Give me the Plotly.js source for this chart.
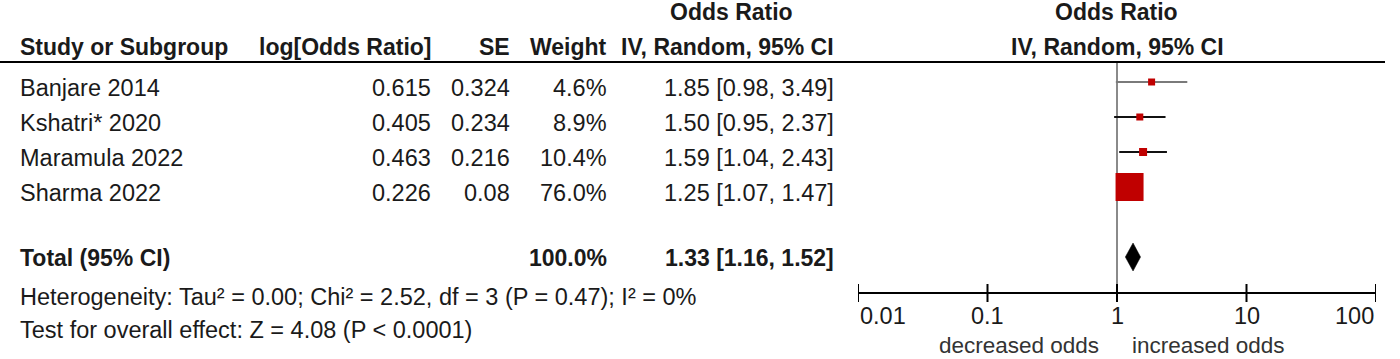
<!DOCTYPE html>
<html><head><meta charset="utf-8">
<script src="https://cdn.plot.ly/plotly-3.0.1.min.js"></script>
<style>html,body{margin:0;padding:0;background:#fff;}#chart{width:1400px;height:359px;}</style>
</head><body><div id="chart"></div>
<script>
// ---------- data ----------
const studies = ['Banjare 2014', 'Kshatri* 2020', 'Maramula 2022', 'Sharma 2022'];
const logOR   = [0.615, 0.405, 0.463, 0.226];
const se      = [0.324, 0.234, 0.216, 0.08];
const weight  = [4.6, 8.9, 10.4, 76.0];
const orVal   = [1.85, 1.50, 1.59, 1.25];
const orLow   = [0.98, 0.95, 1.04, 1.07];
const orHigh  = [3.49, 2.37, 2.43, 1.47];
const totalLabel  = 'Total (95% CI)';
const totalWeight = 100.0;
const totalOR     = 1.33;
const totalLow    = 1.16;
const totalHigh   = 1.52;
const heterogeneity = 'Heterogeneity: Tau² = 0.00; Chi² = 2.52, df = 3 (P = 0.47); I² = 0%';
const overallTest   = 'Test for overall effect: Z = 4.08 (P < 0.0001)';
const tickVals   = [0.01, 0.1, 1, 10, 100];
const tickLabels = ['0.01', '0.1', '1', '10', '100'];
const nullValue  = 1;
const favourLeft  = 'decreased odds';
const favourRight = 'increased odds';

// ---------- styles / layout helpers ----------
const W = 1400, H = 359;
const ROW1PX = 82, ROWH = 35;
const yv = p => (p - ROW1PX) / ROWH + 1;   // pixel -> row units
const px = p => p / W;                     // pixel -> paper x
const FONT = 'Liberation Sans, Arial, sans-serif';
const TXT = '#1a1a1a';
const FS = 23;
const FSR = 23.5;
const TEXT_DY = 0.17;
const studyRows = [1, 2, 3, 4];
const totalRow = 6;
const markerSizes = [7, 7, 8, 28];
const ciColors = ['#7a7a7a', '#111111', '#111111', '#111111'];
const RED = '#c00000';

const traces = [];
studies.forEach((s, i) => {
  traces.push({
    type: 'scatter', mode: 'markers',
    x: [orVal[i]], y: [studyRows[i]],
    marker: {symbol: 'square', size: markerSizes[i], color: RED, line: {width: 0}},
    error_x: {type: 'data', symmetric: false,
      array: [orHigh[i] - orVal[i]], arrayminus: [orVal[i] - orLow[i]],
      color: ciColors[i], thickness: 2, width: 0},
    hoverinfo: 'skip'
  });
});
const dh = 0.4;
traces.push({
  type: 'scatter', mode: 'lines',
  x: [totalLow, totalOR, totalHigh, totalOR, totalLow],
  y: [totalRow, totalRow - dh, totalRow, totalRow + dh, totalRow],
  fill: 'toself', fillcolor: '#000', line: {width: 0.5, color: '#000'},
  hoverinfo: 'skip'
});

const ann = [];
function txt(text, xp, y, anchor, bold, size) {
  ann.push({text: bold ? '<b>' + text + '</b>' : text, xref: 'paper', yref: 'y',
    x: px(xp), y: y, xanchor: anchor, yanchor: 'middle', showarrow: false,
    font: {family: FONT, size: size || (bold ? FS : FSR), color: TXT}});
}
// headers
const hTop = yv(12), hRow = yv(47);
txt('Odds Ratio', 731, hTop, 'center', true);
txt('Odds Ratio', 1116, hTop, 'center', true);
txt('Study or Subgroup', 18, hRow, 'left', true);
txt('log[Odds Ratio]', 433, hRow, 'right', true);
txt('SE', 512, hRow, 'right', true);
txt('Weight', 609, hRow, 'right', true);
txt('IV, Random, 95% CI', 836, hRow, 'right', true);
txt('IV, Random, 95% CI', 1117, hRow, 'center', true);
// study rows
const ci = (o, l, h) => o.toFixed(2) + ' [' + l.toFixed(2) + ', ' + h.toFixed(2) + ']';
studies.forEach((s, i) => {
  const y = studyRows[i] + TEXT_DY;
  txt(s, 18, y, 'left');
  txt(String(logOR[i]), 433, y, 'right');
  txt(String(se[i]), 512, y, 'right');
  txt(weight[i].toFixed(1) + '%', 609, y, 'right');
  txt(ci(orVal[i], orLow[i], orHigh[i]), 836, y, 'right');
});
const tY = totalRow + 0.03;
txt(totalLabel, 18, tY, 'left', true);
txt(totalWeight.toFixed(1) + '%', 609, tY, 'right', true);
txt(ci(totalOR, totalLow, totalHigh), 836, tY, 'right', true);
txt(heterogeneity, 18, yv(297), 'left');
txt(overallTest, 18, yv(330), 'left');
// axis tick labels
tickVals.forEach((v, i) => {
  ann.push({text: tickLabels[i], xref: 'x', yref: 'y', x: Math.log10(v), y: yv(316),
    xanchor: i === 0 ? 'left' : (i === tickVals.length - 1 ? 'right' : 'center'),
    yanchor: 'middle', showarrow: false, font: {family: FONT, size: FSR, color: TXT}});
});
ann.push({text: favourLeft, xref: 'paper', yref: 'y', x: px(1019), y: yv(345), xanchor: 'center',
  yanchor: 'middle', showarrow: false, font: {family: FONT, size: 22.5, color: '#333'}});
ann.push({text: favourRight, xref: 'paper', yref: 'y', x: px(1208), y: yv(345), xanchor: 'center',
  yanchor: 'middle', showarrow: false, font: {family: FONT, size: 22.5, color: '#333'}});

// shapes on the log axis take data values
const shapes = [];
shapes.push({type: 'line', xref: 'paper', yref: 'y', x0: 0, x1: px(1385), y0: yv(62), y1: yv(62),
  line: {color: '#000', width: 2}});
shapes.push({type: 'line', xref: 'x', yref: 'y', x0: nullValue, x1: nullValue, y0: yv(62), y1: yv(293),
  line: {color: '#8a8a8a', width: 2}, layer: 'below'});
shapes.push({type: 'line', xref: 'x', yref: 'y', x0: tickVals[0], x1: tickVals[tickVals.length - 1],
  y0: yv(293), y1: yv(293), line: {color: '#000', width: 2}});
tickVals.forEach(v => shapes.push({type: 'line', xref: 'x', yref: 'y', x0: v, x1: v,
  y0: yv(284), y1: yv(302), line: {color: '#000', width: 2}}));

const layout = {
  width: W, height: H, margin: {l: 0, r: 0, t: 0, b: 0},
  paper_bgcolor: '#fff', plot_bgcolor: '#fff', showlegend: false,
  xaxis: {type: 'log', range: [-2, 2], domain: [858 / W, 1376 / W], visible: false, fixedrange: true},
  yaxis: {range: [yv(H), yv(0)], domain: [0, 1], visible: false, fixedrange: true},
  annotations: ann, shapes: shapes
};
Plotly.newPlot('chart', traces, layout, {displayModeBar: false, staticPlot: true});
</script></body></html>
